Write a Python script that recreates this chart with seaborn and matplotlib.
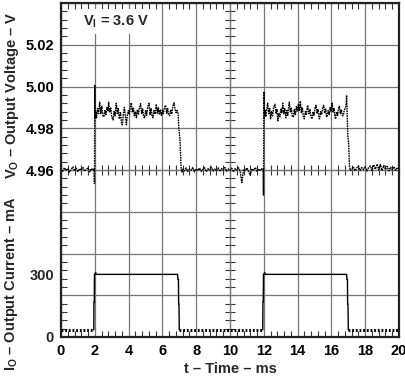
import numpy as np
import pandas as pd
import matplotlib
matplotlib.use("Agg")
import matplotlib.pyplot as plt
import seaborn as sns
from matplotlib.ticker import MultipleLocator, NullFormatter

# ---- voltage trace (V) ----
base1_v = [4.9605, 4.9594, 4.9611, 4.9598, 4.9607, 4.9590, 4.9603, 4.9615, 4.9596, 4.9609,
           4.9592, 4.9606, 4.9599, 4.9612, 4.9594, 4.9604, 4.9610, 4.9591, 4.9607, 4.9600]
base1_span = (0.0, 1.9)

pulse1_t = [1.96, 1.98, 2.00, 2.02, 2.05, 2.10, 2.16, 2.22, 2.29, 2.35, 2.41, 2.48, 2.54, 2.60,
            2.66, 2.72, 2.78, 2.82, 2.88, 2.94, 3.00, 3.08, 3.14, 3.20, 3.27, 3.33, 3.39, 3.45,
            3.52, 3.58, 3.63, 3.69, 3.75, 3.81, 3.87, 3.93, 3.99, 4.05, 4.10, 4.16, 4.22, 4.28,
            4.34, 4.40, 4.46, 4.52, 4.58, 4.64, 4.71, 4.77, 4.83, 4.89, 4.95, 5.01, 5.07, 5.14,
            5.21, 5.27, 5.33, 5.39, 5.44, 5.50, 5.57, 5.64, 5.70, 5.76, 5.82, 5.88, 5.94, 6.00,
            6.06, 6.12, 6.19, 6.25, 6.31, 6.37, 6.43, 6.49, 6.55, 6.62, 6.69, 6.75, 6.81, 6.87,
            6.93, 6.97, 7.01, 7.05, 7.09, 7.12, 7.16]
pulse1_v = [4.9605, 4.9535, 5.0005, 4.9850, 4.9880, 4.9850, 4.9895, 4.9870, 4.9925, 4.9870,
            4.9905, 4.9860, 4.9855, 4.9885, 4.9865, 4.9900, 4.9880, 4.9925, 4.9875, 4.9900,
            4.9855, 4.9840, 4.9880, 4.9860, 4.9920, 4.9870, 4.9895, 4.9845, 4.9875, 4.9825,
            4.9816, 4.9870, 4.9900, 4.9855, 4.9816, 4.9865, 4.9885, 4.9865, 4.9900, 4.9922,
            4.9875, 4.9900, 4.9860, 4.9880, 4.9850, 4.9890, 4.9865, 4.9900, 4.9918, 4.9870,
            4.9895, 4.9855, 4.9850, 4.9885, 4.9862, 4.9905, 4.9920, 4.9865, 4.9895, 4.9858,
            4.9850, 4.9885, 4.9868, 4.9915, 4.9870, 4.9898, 4.9865, 4.9890, 4.9862, 4.9890,
            4.9870, 4.9900, 4.9910, 4.9872, 4.9895, 4.9862, 4.9860, 4.9890, 4.9868, 4.9905,
            4.9922, 4.9890, 4.9875, 4.9885, 4.9870, 4.9800, 4.9770, 4.9730, 4.9640, 4.9600,
            4.9590]

base2_v = [4.9604, 4.9596, 4.9610, 4.9593, 4.9606, 4.9599, 4.9612, 4.9591, 4.9605, 4.9598,
           4.9609, 4.9594, 4.9603, 4.9611, 4.9592, 4.9606, 4.9600, 4.9613, 4.9595, 4.9604,
           4.9597, 4.9610, 4.9593, 4.9607, 4.9599, 4.9612, 4.9594, 4.9605, 4.9598, 4.9609,
           4.9591, 4.9606, 4.9600, 4.9611, 4.9595, 4.9540, 4.9603, 4.9597, 4.9610, 4.9593,
           4.9575, 4.9606, 4.9599, 4.9612, 4.9594, 4.9605, 4.9598, 4.9608]
base2_span = (7.2, 11.9)

pulse2_t = [11.96, 11.98, 12.01, 12.03, 12.07, 12.12, 12.18, 12.23, 12.29, 12.35, 12.40, 12.46,
            12.52, 12.58, 12.66, 12.72, 12.78, 12.83, 12.89, 12.95, 13.01, 13.07, 13.12, 13.18,
            13.24, 13.30, 13.36, 13.42, 13.47, 13.51, 13.57, 13.63, 13.69, 13.75, 13.81, 13.87,
            13.93, 13.99, 14.05, 14.10, 14.16, 14.22, 14.28, 14.34, 14.40, 14.46, 14.52, 14.57,
            14.60, 14.67, 14.73, 14.79, 14.85, 14.91, 14.97, 15.03, 15.09, 15.15, 15.21, 15.26,
            15.30, 15.36, 15.42, 15.48, 15.54, 15.60, 15.66, 15.71, 15.75, 15.81, 15.87, 15.93,
            15.99, 16.04, 16.10, 16.16, 16.21, 16.25, 16.31, 16.37, 16.42, 16.47, 16.53, 16.59,
            16.65, 16.70, 16.76, 16.81, 16.86, 16.90, 16.93, 16.97, 17.02, 17.07, 17.12]
pulse2_v = [4.9605, 4.9480, 4.9975, 4.9850, 4.9890, 4.9855, 4.9895, 4.9920, 4.9870, 4.9895,
            4.9845, 4.9880, 4.9860, 4.9900, 4.9915, 4.9870, 4.9890, 4.9835, 4.9870, 4.9855,
            4.9895, 4.9875, 4.9920, 4.9870, 4.9895, 4.9850, 4.9885, 4.9862, 4.9905, 4.9925,
            4.9875, 4.9900, 4.9855, 4.9855, 4.9890, 4.9865, 4.9905, 4.9880, 4.9915, 4.9885,
            4.9930, 4.9875, 4.9900, 4.9855, 4.9845, 4.9880, 4.9862, 4.9900, 4.9910, 4.9870,
            4.9890, 4.9855, 4.9845, 4.9880, 4.9862, 4.9895, 4.9910, 4.9870, 4.9890, 4.9852,
            4.9845, 4.9880, 4.9865, 4.9898, 4.9910, 4.9872, 4.9892, 4.9855, 4.9855, 4.9885,
            4.9865, 4.9900, 4.9880, 4.9920, 4.9875, 4.9895, 4.9855, 4.9845, 4.9880, 4.9862,
            4.9895, 4.9905, 4.9870, 4.9890, 4.9860, 4.9860, 4.9885, 4.9895, 4.9905, 4.9958,
            4.9880, 4.9765, 4.9730, 4.9615, 4.9598]

base3_v = [4.9604, 4.9615, 4.9596, 4.9610, 4.9620, 4.9598, 4.9612, 4.9602, 4.9618, 4.9595,
           4.9611, 4.9620, 4.9598, 4.9625, 4.9604, 4.9628, 4.9600, 4.9626, 4.9598, 4.9622,
           4.9602, 4.9618, 4.9596, 4.9614, 4.9600, 4.9616, 4.9598, 4.9612, 4.9603]
base3_span = (17.2, 20.0)

# ---- output current trace (mA) ----
cur_low = 34
cur_base_spans = [(0.0, 1.94), (7.00, 11.94), (17.00, 20.0)]
cur_pulse1_t = [1.94, 1.95, 1.97, 1.98, 2.06, 2.08, 6.90, 6.92, 6.95, 6.96, 6.98, 7.00]
cur_pulse1_i = [34, 168, 168, 300, 308, 300, 300, 276, 276, 158, 158, 34]
cur_pulse2_t = [11.94, 11.95, 11.97, 11.98, 12.06, 12.08, 16.90, 16.92, 16.95, 16.96, 16.98, 17.00]
cur_pulse2_i = [34, 168, 168, 300, 308, 300, 300, 276, 276, 158, 158, 34]

x_ticks = list(range(0, 21, 2))
volt_ticks = [4.96, 4.98, 5.00, 5.02]
cur_ticks = [0, 300]

# assemble voltage trace
volt = pd.DataFrame({
    "t": np.concatenate([np.linspace(*base1_span, len(base1_v)), pulse1_t,
                         np.linspace(*base2_span, len(base2_v)), pulse2_t,
                         np.linspace(*base3_span, len(base3_v))]),
    "v": np.concatenate([base1_v, pulse1_v, base2_v, pulse2_v, base3_v]),
})

sns.set_theme(style="ticks")
plt.rcParams['font.family'] = ['Liberation Sans', 'DejaVu Sans']
plt.rcParams['font.weight'] = 'bold'
plt.rcParams['mathtext.fontset'] = 'custom'
plt.rcParams['mathtext.rm'] = 'Liberation Sans:bold'
plt.rcParams['mathtext.it'] = 'Liberation Sans:bold'
plt.rcParams['mathtext.bf'] = 'Liberation Sans:bold'

fs = 10.5
grid_c = '#767676'
dash = "\u2013"

fig = plt.figure(figsize=(4.06, 3.77), dpi=100)
ax = fig.add_axes([61 / 406, 1 - 337 / 377, 338 / 406, 334 / 377])
ax.set_xlim(0, 20)
ax.set_ylim(4.88, 5.04)

# scope grid: 10 x 8 divisions
ax.set_xticks(x_ticks)
ax.set_xticklabels([str(x) for x in x_ticks], fontsize=fs, fontweight='bold')
div_y = np.round(np.arange(4.88, 5.0401, 0.02), 2)
ax.set_yticks(div_y)
ax.set_yticklabels([f"{y:.2f}" if y in volt_ticks else "" for y in div_y],
                   fontsize=fs, fontweight='bold')
ax.grid(True, color=grid_c, lw=0.9)
ax.set_axisbelow(True)
ax.xaxis.set_minor_locator(MultipleLocator(0.4))
ax.yaxis.set_minor_locator(MultipleLocator(0.004))
ax.tick_params(which='major', length=0, pad=5, colors='black')
ax.tick_params(which='minor', direction='in', length=4.5, width=0.8,
               top=True, right=True, color='#333333')
for s in ax.spines.values():
    s.set_color('#222222')
    s.set_linewidth(1.6)

# center cross ticks
secx = ax.secondary_xaxis(0.5)
secx.set_xticks([])
secx.xaxis.set_minor_locator(MultipleLocator(0.4))
secx.xaxis.set_minor_formatter(NullFormatter())
secx.tick_params(which='minor', direction='inout', length=7, width=0.8, color='#333333')
for s in secx.spines.values():
    s.set_color(grid_c)
    s.set_linewidth(0.9)
secy = ax.secondary_yaxis(0.5)
secy.set_yticks([])
secy.yaxis.set_minor_locator(MultipleLocator(0.004))
secy.yaxis.set_minor_formatter(NullFormatter())
secy.tick_params(which='minor', direction='inout', length=7, width=0.8, color='#333333')
for s in secy.spines.values():
    s.set_color(grid_c)
    s.set_linewidth(0.9)

sns.lineplot(data=volt, x="t", y="v", ax=ax, color='black', lw=1.0,
             linestyle=(0, (1.2, 0.6)), estimator=None, sort=False)
ax.set_xlabel(f"t {dash} Time {dash} ms", fontsize=fs, fontweight='bold', labelpad=3)
ax.set_ylabel("")

# current on its own scale (200 mA/div)
ax2 = ax.twinx()
ax2.set_ylim(0, 1600)
for s in ax2.spines.values():
    s.set_visible(False)
for bt, bi in [(cur_pulse1_t, cur_pulse1_i), (cur_pulse2_t, cur_pulse2_i)]:
    sns.lineplot(x=bt, y=bi, ax=ax2, color='black', lw=1.0, estimator=None, sort=False)
for a, b in cur_base_spans:
    sns.lineplot(x=[a, b], y=[cur_low, cur_low], ax=ax2, color='black', lw=2.2,
                 linestyle=(0, (0.6, 0.6)), estimator=None, sort=False)
ax2.yaxis.tick_left()
ax2.set_yticks(cur_ticks)
ax2.set_yticklabels([str(c) for c in cur_ticks], fontsize=fs, fontweight='bold')
ax2.tick_params(axis='y', length=0, pad=5)
ax2.set_ylabel("")

ax.text(0.065, 0.945, r"V$_\mathrm{I}$ = 3.6 V", transform=ax.transAxes, fontsize=fs,
        fontweight='bold', ha='left', va='center',
        bbox=dict(facecolor='white', edgecolor='none', pad=3))

fig.text(12 / 406, 1 - 95 / 377, r"V$_\mathrm{O}$ " + f"{dash} Output Voltage {dash} V",
         rotation=90, ha='center', va='center', fontsize=fs, fontweight='bold')
fig.text(12 / 406, 1 - 283 / 377, r"I$_\mathrm{O}$ " + f"{dash} Output Current {dash} mA",
         rotation=90, ha='center', va='center', fontsize=fs, fontweight='bold')

fig.savefig("out.png", dpi=100)
